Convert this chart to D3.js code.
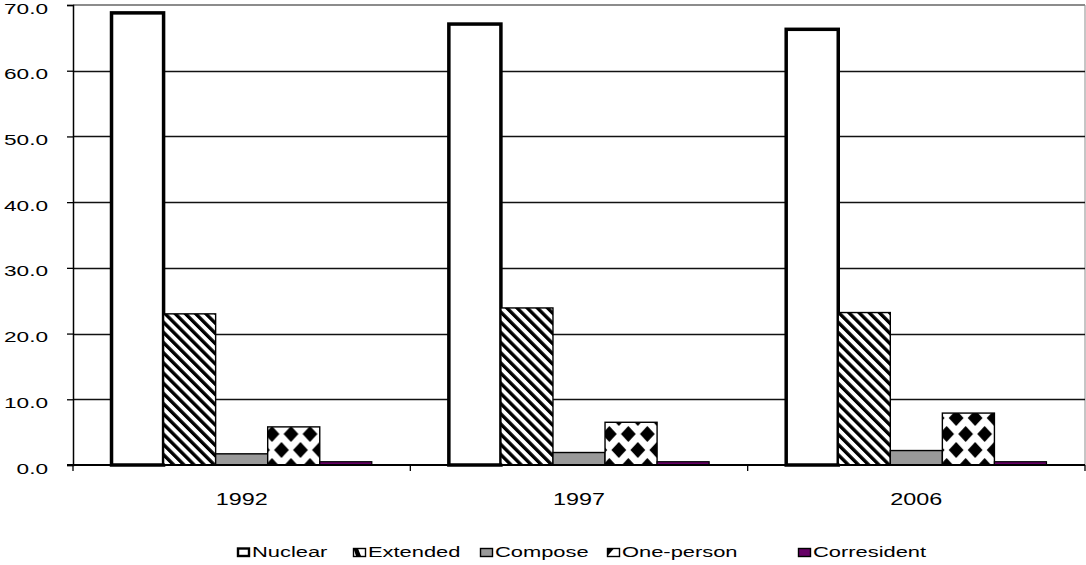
<!DOCTYPE html>
<html>
<head>
<meta charset="utf-8">
<script src="https://cdn.jsdelivr.net/npm/d3@7"></script>
<style>
  html, body { margin: 0; padding: 0; background: #fff; }
  svg { display: block; }
  text { font-family: "Liberation Sans", Arial, sans-serif; fill: #000; }
</style>
</head>
<body>
<svg id="chart" width="1086" height="565"></svg>
<script>
// Household type shares (%) by survey year
const years = ["1992", "1997", "2006"];
const seriesNames = ["Nuclear", "Extended", "Compose", "One-person", "Corresident"];
const nuclear = [68.8, 67.1, 66.3];
const extended = [23.0, 23.9, 23.2];
const compose = [1.7, 1.9, 2.2];
const onePerson = [5.8, 6.5, 7.9];
const corresident = [0.5, 0.5, 0.5];
const yTicks = [0, 10, 20, 30, 40, 50, 60, 70];

const seriesValues = [nuclear, extended, compose, onePerson, corresident];

const svg = d3.select("#chart");
const plot = { left: 73, right: 1085, top: 5, bottom: 465 };
const TEXT_STRETCH = 1.46;

// Fill patterns
const defs = svg.append("defs");
const SP = 7.2;
const stripe = defs.append("pattern")
  .attr("id", "stripes").attr("patternUnits", "userSpaceOnUse")
  .attr("width", SP).attr("height", SP)
  .attr("patternTransform", "rotate(-45)");
stripe.append("rect").attr("width", SP).attr("height", SP).attr("fill", "#fff");
stripe.append("rect").attr("x", 0).attr("width", SP * 0.47).attr("height", SP).attr("fill", "#000");

const PW = 19, PH = 32, RX = 7.4, RY = 8;
const diamonds = defs.append("pattern")
  .attr("id", "diamonds").attr("patternUnits", "userSpaceOnUse")
  .attr("width", PW).attr("height", PH).attr("x", -0.5).attr("y", 2);
diamonds.append("rect").attr("width", PW).attr("height", PH).attr("fill", "#fff");
[[0, 0], [PW, 0], [PW / 2, PH / 2], [0, PH], [PW, PH]].forEach(([cx, cy]) => {
  diamonds.append("path")
    .attr("d", `M${cx},${cy - RY}L${cx + RX},${cy}L${cx},${cy + RY}L${cx - RX},${cy}Z`)
    .attr("fill", "#000");
});

const styles = {
  "Nuclear":     { fill: "#fff", sw: 3.5 },
  "Extended":    { fill: "url(#stripes)", sw: 1.4 },
  "Compose":     { fill: "#999999", sw: 1.4 },
  "One-person":  { fill: "url(#diamonds)", sw: 1.4 },
  "Corresident": { fill: "#660066", sw: 1.2 }
};

// Scales
const x0 = d3.scaleBand().domain(years).range([plot.left, plot.right]).padding(0);
const x1 = d3.scaleBand().domain(seriesNames).range([0, x0.bandwidth()])
  .paddingInner(0).paddingOuter(0.74);
const y = d3.scaleLinear().domain([0, 70]).range([plot.bottom, plot.top]);

// Plot frame (top and right in gray)
svg.append("line").attr("x1", plot.left).attr("x2", plot.right)
  .attr("y1", plot.top).attr("y2", plot.top)
  .attr("stroke", "#8c8c8c").attr("stroke-width", 2);
svg.append("line").attr("x1", plot.right).attr("x2", plot.right)
  .attr("y1", plot.top).attr("y2", plot.bottom)
  .attr("stroke", "#8c8c8c").attr("stroke-width", 1);

// Gridlines
svg.append("g").selectAll("line")
  .data(yTicks.filter(t => t > 0 && t < 70))
  .join("line")
  .attr("x1", plot.left).attr("x2", plot.right)
  .attr("y1", d => Math.round(y(d)) + 0.5).attr("y2", d => Math.round(y(d)) + 0.5)
  .attr("stroke", "#111").attr("stroke-width", 1.3);

// Y axis
const yAxis = svg.append("g").attr("transform", `translate(${plot.left},0)`)
  .call(d3.axisLeft(y).tickValues(yTicks).tickSize(6).tickFormat(() => ""));
yAxis.select(".domain").attr("stroke", "#000").attr("stroke-width", 1.5);
yAxis.selectAll(".tick line").attr("stroke", "#000").attr("stroke-width", 1.3);

svg.append("g").selectAll("text")
  .data(yTicks)
  .join("text")
  .attr("transform", d => `translate(48,${y(d) + 8.5}) scale(${TEXT_STRETCH},1)`)
  .attr("text-anchor", "end")
  .attr("font-size", 15.5)
  .text(d => d.toFixed(1));

// Bars
const groups = svg.append("g").selectAll("g")
  .data(years)
  .join("g")
  .attr("transform", d => `translate(${x0(d)},0)`);

groups.selectAll("rect")
  .data((yr, i) => seriesNames.map((s, k) => ({ s, v: seriesValues[k][i] })))
  .join("rect")
  .attr("x", d => x1(d.s))
  .attr("y", d => y(d.v))
  .attr("width", x1.bandwidth())
  .attr("height", d => y(0) - y(d.v))
  .attr("fill", d => styles[d.s].fill)
  .attr("stroke", "#000")
  .attr("stroke-width", d => styles[d.s].sw);

// X axis
const xAxis = svg.append("g").attr("transform", `translate(0,${plot.bottom})`);
xAxis.append("line").attr("x1", plot.left - 6).attr("x2", plot.right)
  .attr("stroke", "#000").attr("stroke-width", 2);
xAxis.selectAll(".sep")
  .data(years.map(yr => x0(yr)).concat([plot.right]))
  .join("line").attr("class", "sep")
  .attr("x1", d => d).attr("x2", d => d)
  .attr("y1", 0).attr("y2", 6)
  .attr("stroke", "#000").attr("stroke-width", 1.3);
xAxis.selectAll("text")
  .data(years)
  .join("text")
  .attr("transform", d => `translate(${x0(d) + x0.bandwidth() / 2},40) scale(${TEXT_STRETCH},1)`)
  .attr("text-anchor", "middle")
  .attr("font-size", 16)
  .text(d => d);

// Legend
const legendX = [237, 353, 480, 607, 798];
const legend = svg.append("g").attr("transform", "translate(0,548)");
seriesNames.forEach((name, i) => {
  const item = legend.append("g").attr("transform", `translate(${legendX[i]},0)`);
  const mw = 12, mh = 8;
  if (name === "Nuclear") {
    item.append("rect").attr("x", 1).attr("y", 0.5).attr("width", mw - 1).attr("height", mh - 0.5)
      .attr("fill", "#fff").attr("stroke", "#000").attr("stroke-width", 2.4);
  } else if (name === "Extended") {
    item.append("rect").attr("x", 0.5).attr("y", 0.5).attr("width", mw).attr("height", mh)
      .attr("fill", "#fff").attr("stroke", "#000").attr("stroke-width", 1.4);
    item.append("path").attr("d", `M0.5,0.5L5,0.5L8,${mh}L3,${mh}Z`).attr("fill", "#000");
  } else if (name === "One-person") {
    item.append("rect").attr("x", 0.5).attr("y", 0.5).attr("width", mw).attr("height", mh)
      .attr("fill", "#fff").attr("stroke", "#000").attr("stroke-width", 1.4);
    item.append("path").attr("d", `M0.5,0.5L7,0.5L0.5,${mh}Z`).attr("fill", "#000");
  } else {
    item.append("rect").attr("x", 0.5).attr("y", 0.5).attr("width", mw).attr("height", mh)
      .attr("fill", styles[name].fill).attr("stroke", "#000").attr("stroke-width", 1.4);
  }
  item.append("text")
    .attr("transform", `translate(${mw + 3},${mh + 1}) scale(${TEXT_STRETCH},1)`)
    .attr("font-size", 15)
    .text(name);
});
</script>
</body>
</html>
